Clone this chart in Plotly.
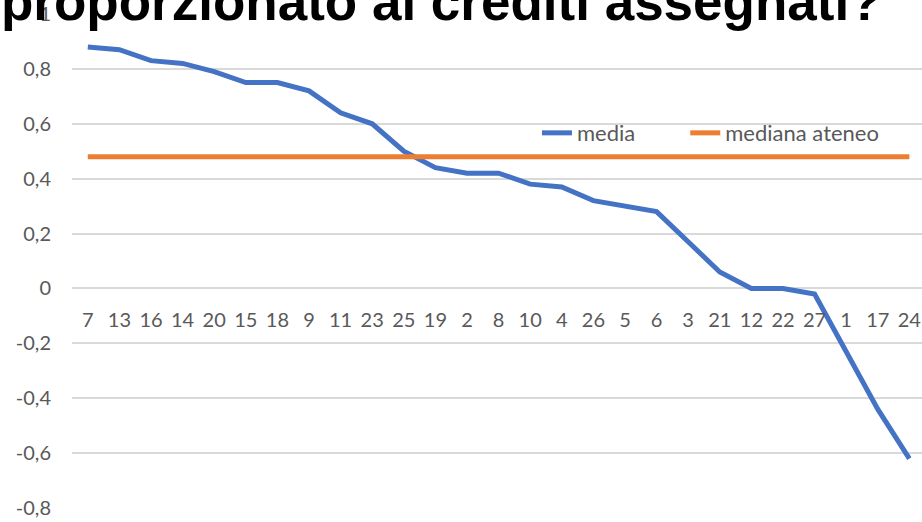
import plotly.graph_objects as go

categorie = ["7", "13", "16", "14", "20", "15", "18", "9", "11", "23", "25", "19", "2", "8",
             "10", "4", "26", "5", "6", "3", "21", "12", "22", "27", "1", "17", "24"]
media = [0.88, 0.87, 0.83, 0.82, 0.79, 0.75, 0.75, 0.72, 0.64, 0.60, 0.50, 0.44, 0.42, 0.42,
         0.38, 0.37, 0.32, 0.30, 0.28, 0.17, 0.06, 0.00, 0.00, -0.02, -0.23, -0.44, -0.62]
mediana_ateneo = [0.48] * len(categorie)

y_tickvals = [1, 0.8, 0.6, 0.4, 0.2, 0, -0.2, -0.4, -0.6, -0.8]
y_ticktext = ["1", "0,8", "0,6", "0,4", "0,2", "0", "-0,2", "-0,4", "-0,6", "-0,8"]

titolo = "proporzionato ai crediti assegnati?"

grey = "#595959"
y_min, y_max = -0.8, 1.0

# non-breaking spaces push the second legend entry to the right
fig = go.Figure()
fig.add_trace(go.Scatter(x=categorie, y=media, name="media" + "\u00a0" * 8, mode="lines",
                         line=dict(color="#4472C4", width=5)))
fig.add_trace(go.Scatter(x=categorie, y=mediana_ateneo, name="mediana ateneo", mode="lines",
                         line=dict(color="#ED7D31", width=5)))

fig.update_layout(
    width=922, height=522,
    margin=dict(l=72, r=0, t=14, b=14),
    paper_bgcolor="white", plot_bgcolor="white",
    font=dict(family="Lato", size=20, color=grey),
    showlegend=True,
    legend=dict(orientation="h", x=0.547, xanchor="left", y=0.759, yanchor="middle",
                bgcolor="rgba(0,0,0,0)", font=dict(size=22, color=grey)),
    xaxis=dict(type="category", range=[-0.5, 26.4], anchor="free",
               position=(0 - y_min) / (y_max - y_min),
               showline=False, showgrid=False, ticks="", ticklabelstandoff=18,
               tickfont=dict(size=20, color=grey)),
    yaxis=dict(range=[y_min, y_max], tickvals=y_tickvals, ticktext=y_ticktext,
               showgrid=True, gridcolor="#D9D9D9", gridwidth=1.5, zeroline=False,
               showline=False, ticks="", ticklabelstandoff=20,
               tickfont=dict(size=20, color=grey)),
    annotations=[dict(text="<b>" + titolo + "</b>", xref="paper", yref="paper",
                      x=0.435, xanchor="center", y=1, yanchor="middle", yshift=13,
                      showarrow=False,
                      font=dict(family="Liberation Sans", size=53, color="black"))],
)

fig.write_html("out.html", config={"displayModeBar": False},
               post_script="document.body.style.margin='0';")
